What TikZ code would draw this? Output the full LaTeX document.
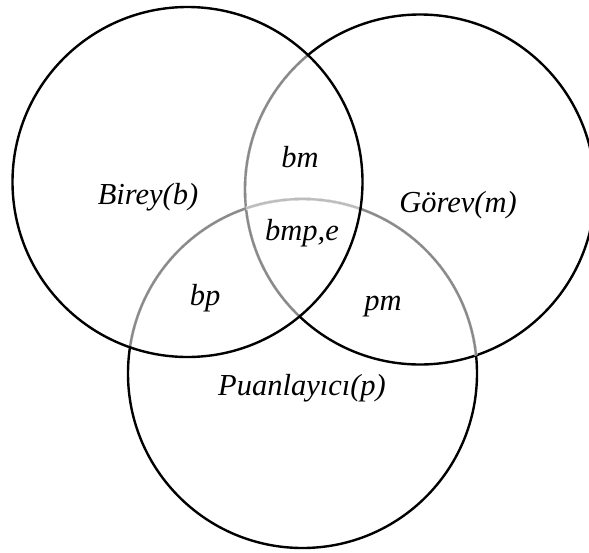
\documentclass[tikz,border=0pt]{standalone}
\usepackage{fontspec}
\setmainfont{Liberation Serif}
\definecolor{midgray}{HTML}{8A8A8A}
\definecolor{softgray}{HTML}{BDBDBD}
\begin{document}
\begin{tikzpicture}[x=1pt,y=-1pt,line width=2.4pt,
  lbl/.style={font=\fontsize{30.5}{31}\selectfont\itshape,anchor=base,inner sep=0pt},
  cover/.style={draw=white,line width=3pt}]
\useasboundingbox (0,0) rectangle (589,552);
\clip (0,0) rectangle (589,552);
% circle centres
\coordinate (cL) at (187.5,182);
\coordinate (cR) at (420,189.5);
\coordinate (cP) at (302.5,373.5);
% full outlines of Gorev and Puanlayici
\draw (cP) circle[radius=174.5pt];
\draw (cR) circle[radius=175pt];
% arcs lying inside the Birey circle are grey
\begin{scope}
  \clip (cL) circle[radius=175pt];
  \draw[cover] (cR) circle[radius=175pt];
  \draw[cover] (cP) circle[radius=174.5pt];
  \draw[midgray] (cR) circle[radius=175pt];
  \draw[midgray] (cP) circle[radius=174.5pt];
\end{scope}
% Puanlayici arc inside the Gorev circle
\begin{scope}
  \clip (cR) circle[radius=175pt];
  \draw[cover] (cP) circle[radius=174.5pt];
  \draw[midgray] (cP) circle[radius=174.5pt];
  \clip (cL) circle[radius=175pt];
  \draw[cover] (cP) circle[radius=174.5pt];
  \draw[softgray] (cP) circle[radius=174.5pt];
\end{scope}
% Birey outline on top
\draw (cL) circle[radius=175pt];
% labels
\node[lbl] (b) at (148,204) {Birey(b)};
\node[lbl] (m) at (458,212) {Görev(m)};
\node[lbl] (p) at (302,395) {Puanlayıcı(p)};
\node[lbl] (bm) at (300,167) {bm};
\node[lbl] (bmpe) at (302,240) {bmp,e};
\node[lbl] (bp) at (205,305) {bp};
\node[lbl] (pm) at (383,310) {pm};
\end{tikzpicture}
\end{document}
